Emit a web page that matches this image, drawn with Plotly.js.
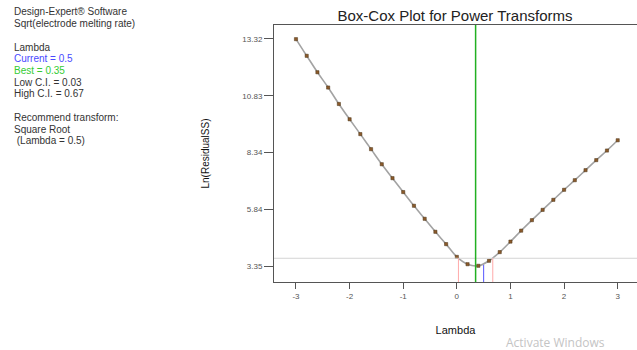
<!DOCTYPE html>
<html>
<head>
<meta charset="utf-8">
<script src="https://cdn.plot.ly/plotly-3.0.1.min.js"></script>
<style>html,body{margin:0;padding:0;background:#fff;}#chart{width:637px;height:350px;}</style>
</head>
<body>
<div id="chart"></div>
<script>
// Data
const lambdaValues = [-3.0,-2.8,-2.6,-2.4,-2.2,-2.0,-1.8,-1.6,-1.4,-1.2,-1.0,-0.8,-0.6,-0.4,-0.2,0.0,0.2,0.4,0.6,0.8,1.0,1.2,1.4,1.6,1.8,2.0,2.2,2.4,2.6,2.8,3.0];
const lnResidualSS = [13.31,12.58,11.86,11.19,10.47,9.80,9.15,8.49,7.83,7.22,6.61,6.01,5.44,4.87,4.33,3.77,3.45,3.38,3.60,3.98,4.44,4.92,5.38,5.83,6.27,6.71,7.13,7.57,8.01,8.43,8.88];
const yTickValues = [3.35,5.84,8.34,10.83,13.32];
const yTickLabels = ["3.35","5.84","8.34","10.83","13.32"];
const xTickValues = [-3,-2,-1,0,1,2,3];
const xTickLabels = ["-3","-2","-1","0","1","2","3"];
const currentLambda = 0.5;
const bestLambda = 0.35;
const lowCI = 0.03;
const highCI = 0.67;
const ciThreshold = 3.71;
const currentCurveValue = 3.42;
const infoLines = [
  {text: "Design-Expert® Software", color: "#333"},
  {text: "Sqrt(electrode melting rate)", color: "#333"},
  {text: "", color: "#333"},
  {text: "Lambda", color: "#333"},
  {text: "Current = 0.5", color: "#4a4aff"},
  {text: "Best = 0.35", color: "#33cc33"},
  {text: "Low C.I. = 0.03", color: "#333"},
  {text: "High C.I. = 0.67", color: "#333"},
  {text: "", color: "#333"},
  {text: "Recommend transform:", color: "#333"},
  {text: "Square Root", color: "#333"},
  {text: " (Lambda = 0.5)", color: "#333"}
];

const W = 637, H = 350;
const M = {l: 274, r: 0, t: 25, b: 68};
const pw = W - M.l - M.r, ph = H - M.t - M.b;
function px2paperX(px){ return (px - M.l) / pw; }
function px2paperY(py){ return (H - M.b - py) / ph; }

const FONT = "Liberation Sans, Arial, sans-serif";
const YMIN = 2.67, YMAX = 13.93;

const annotations = [];
infoLines.forEach((ln, i) => {
  if (!ln.text) return;
  annotations.push({
    xref: 'paper', yref: 'paper',
    x: px2paperX(12), y: px2paperY(12 + i * 11.7),
    xanchor: 'left', yanchor: 'middle',
    text: ln.text.replace(/ /g, '&nbsp;'),
    showarrow: false,
    font: {family: FONT, size: 10, color: ln.color}
  });
});
annotations.push({
  xref: 'paper', yref: 'paper',
  x: px2paperX(555), y: px2paperY(342),
  xanchor: 'center', yanchor: 'middle',
  text: 'Activate Windows', showarrow: false,
  font: {family: "Open Sans, sans-serif", size: 12, color: '#c4c4c4'}
});

const shapes = [
  {type: 'line', xref: 'paper', yref: 'y', x0: 0, x1: 1, y0: ciThreshold, y1: ciThreshold,
   line: {color: '#d4d4d4', width: 1}},
  {type: 'line', xref: 'x', yref: 'y', x0: lowCI, x1: lowCI, y0: YMIN, y1: ciThreshold,
   line: {color: '#ffaaaa', width: 1}},
  {type: 'line', xref: 'x', yref: 'y', x0: highCI, x1: highCI, y0: YMIN, y1: ciThreshold,
   line: {color: '#ffaaaa', width: 1}},
  {type: 'line', xref: 'x', yref: 'y', x0: currentLambda, x1: currentLambda, y0: YMIN, y1: currentCurveValue,
   line: {color: '#5555ff', width: 1}},
  {type: 'line', xref: 'x', yref: 'paper', x0: bestLambda, x1: bestLambda, y0: 0, y1: 1,
   line: {color: '#22b022', width: 1.5}}
];

const trace = {
  x: lambdaValues, y: lnResidualSS,
  type: 'scatter', mode: 'lines+markers',
  line: {color: '#a3a3a3', width: 1.6, shape: 'spline'},
  marker: {symbol: 'square', size: 3.2, color: '#8b5a2b', line: {color: '#4a3418', width: 0.5}},
  hoverinfo: 'skip'
};

const layout = {
  width: W, height: H,
  margin: M,
  paper_bgcolor: '#fff', plot_bgcolor: '#fff',
  showlegend: false,
  font: {family: FONT, color: '#333'},
  title: {text: 'Box-Cox Plot for Power Transforms', x: 455 / W, xanchor: 'center', y: 1 - 16 / H, yanchor: 'middle',
          font: {family: FONT, size: 15, color: '#222'}},
  xaxis: {
    range: [-3.41, 3.36], tickvals: xTickValues, ticktext: xTickLabels,
    showgrid: false, zeroline: false, showline: true, mirror: true, linecolor: '#555', linewidth: 1,
    ticks: 'outside', ticklen: 6, tickcolor: '#555', tickwidth: 1,
    tickfont: {family: FONT, size: 8, color: '#555'},
    title: {text: 'Lambda', font: {family: FONT, size: 11, color: '#111'}, standoff: 26}
  },
  yaxis: {
    range: [YMIN, YMAX], tickvals: yTickValues, ticktext: yTickLabels,
    showgrid: false, zeroline: false, showline: true, mirror: true, linecolor: '#555', linewidth: 1,
    ticks: 'outside', ticklen: 9, tickcolor: '#555', tickwidth: 1,
    tickfont: {family: FONT, size: 8, color: '#555'},
    title: {text: 'Ln(ResidualSS)', font: {family: FONT, size: 10, color: '#111'}, standoff: 30}
  },
  shapes: shapes,
  annotations: annotations
};

Plotly.newPlot('chart', [trace], layout, {displayModeBar: false, staticPlot: true});
</script>
</body>
</html>
